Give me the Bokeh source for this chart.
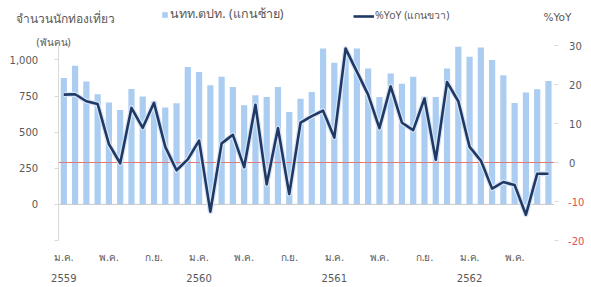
from bokeh.plotting import figure
from bokeh.models import (Range1d, LinearAxis, FixedTicker, Label, Legend, LegendItem,
                          ColumnDataSource, NumeralTickFormatter)
from bokeh.embed import file_html
from bokeh.resources import INLINE

# ---------------- data ----------------
month_abbr = ["ม.ค.", "ก.พ.", "มี.ค.", "เม.ย.", "พ.ค.", "มิ.ย.",
              "ก.ค.", "ส.ค.", "ก.ย.", "ต.ค.", "พ.ย.", "ธ.ค."]
years = ["2559", "2560", "2561", "2562"]
n_months = 44  # ม.ค. 2559 - ส.ค. 2562

# foreign tourists (thousand persons), left axis
tourists = [875, 960, 851, 763, 705, 654, 798, 747, 712, 670, 700, 952,
            917, 825, 883, 813, 686, 755, 743, 813, 639, 732, 778, 1080,
            980, 1040, 1080, 941, 743, 906, 836, 883, 745, 743, 941, 1091,
            1022, 1087, 999, 894, 702, 774, 797, 855]
# %YoY, right axis
yoy = [17.4, 17.5, 15.7, 15.0, 4.7, -0.2, 14.0, 8.9, 15.3, 4.0, -2.0, 0.8,
       5.6, -12.6, 4.9, 7.1, -1.2, 14.8, -5.6, 8.8, -8.1, 10.2, 11.9, 13.3,
       6.4, 29.2, 23.3, 17.4, 8.8, 19.5, 10.2, 8.3, 16.4, 0.7, 20.6, 15.7,
       4.0, 0.5, -6.7, -5.0, -5.8, -13.4, -2.9, -2.9]

left_ticks = [-250, 0, 250, 500, 750, 1000]
left_bounds = (-250, 1100)
right_ticks = [-20, -10, 0, 10, 20, 30]
right_bounds = (-20, 30)

idx = list(range(n_months))
labels = [month_abbr[i % 12] for i in idx]
month_tick_idx = [i for i in idx if i % 4 == 0]
year_tick_idx = [i for i in idx if i % 12 == 0]

src = ColumnDataSource(dict(x=idx, tourists=tourists, yoy=yoy, label=labels))

# ---------------- layout ----------------
W, H = 591, 287
BOTTOM = 38                   # height of the month / year label band
PLOT_L, PLOT_R = 57.7, 553.6  # pixel edges of the category band
PLOT_T, PLOT_B = 45, 240      # pixel top / bottom of the value axes
FRAME_H = H - BOTTOM
step = (PLOT_R - PLOT_L) / n_months
x0 = -0.5 - PLOT_L / step
x1 = x0 + W / step
axis_px = PLOT_B - PLOT_T
lpp = (left_bounds[1] - left_bounds[0]) / axis_px
rpp = (right_bounds[1] - right_bounds[0]) / axis_px
l_range = (left_bounds[0] - (FRAME_H - PLOT_B) * lpp, left_bounds[1] + PLOT_T * lpp)
r_range = (right_bounds[0] - (FRAME_H - PLOT_B) * rpp, right_bounds[1] + PLOT_T * rpp)

GRAY = "#595959"
FONT = "DejaVu Sans"
THAI = "Noto Sans, DejaVu Sans, sans-serif"

p = figure(width=W, height=H, output_backend="svg", toolbar_location=None,
           x_range=Range1d(x0, x1), y_range=Range1d(*l_range),
           min_border_left=0, min_border_right=0, min_border_top=0, min_border_bottom=BOTTOM,
           x_axis_location=None, y_axis_location=None)
p.outline_line_color = None
p.xgrid.visible = False
p.ygrid.visible = False
p.extra_y_ranges = {"yoy": Range1d(*r_range)}

# bars
bars = p.vbar(x="x", top="tourists", bottom=0, width=0.55, source=src,
              fill_color="#ABCDF1", line_color=None)

# baseline (0 of left axis) and 0% line (right axis)
p.segment(x0=[-0.5], x1=[n_months - 0.5], y0=[0], y1=[0], line_color="#C8C8C8", line_width=1)
p.segment(x0=[-0.5], x1=[n_months - 0.5], y0=[0], y1=[0], y_range_name="yoy",
          line_color="#E07A7A", line_width=1)

# line with light halo
p.line(x="x", y="yoy", source=src, y_range_name="yoy", line_color="#D6E4F5",
       line_width=5, line_join="round")
ln = p.line(x="x", y="yoy", source=src, y_range_name="yoy", line_color="#1F3864",
            line_width=2.6, line_join="round")

# left axis (fixed at the left edge of the category band)
la = LinearAxis(ticker=FixedTicker(ticks=left_ticks), fixed_location=-0.5,
                bounds=left_bounds,
                formatter=NumeralTickFormatter(format="0,0"),
                major_label_overrides={-250: ""})
la.axis_line_color = "#D9D9D9"
la.major_tick_line_color = "#D9D9D9"
la.major_tick_out = 4
la.major_tick_in = 0
la.minor_tick_line_color = None
la.major_label_standoff = 16
la.major_label_text_font = FONT
la.major_label_text_font_size = "10px"
la.major_label_text_color = GRAY
p.add_layout(la, "left")

# right axis (fixed at the right edge of the category band)
ra = LinearAxis(y_range_name="yoy", ticker=FixedTicker(ticks=right_ticks),
                fixed_location=n_months - 0.5, bounds=right_bounds,
                major_label_overrides={t: "" for t in right_ticks if t < 0})
ra.axis_line_color = None
ra.major_tick_line_color = "#D9D9D9"
ra.major_tick_out = 4
ra.major_tick_in = 0
ra.minor_tick_line_color = None
ra.major_label_standoff = 11
ra.major_label_text_font = FONT
ra.major_label_text_font_size = "10px"
ra.major_label_text_color = GRAY
p.add_layout(ra, "right")

# negative %YoY labels in red
for t in right_ticks:
    if t < 0:
        p.add_layout(Label(x=n_months - 0.5, x_offset=14, y=t, y_range_name="yoy",
                           text=str(t), text_font=FONT, text_font_size="10px",
                           text_color="#E05050", text_baseline="middle", text_align="left"))

# bottom axes: months and years
ma = LinearAxis(ticker=FixedTicker(ticks=month_tick_idx),
                major_label_overrides={i: labels[i] for i in month_tick_idx})
ma.axis_line_color = None
ma.major_tick_line_color = None
ma.minor_tick_line_color = None
ma.major_label_standoff = -6
ma.major_label_text_font = THAI
ma.major_label_text_font_size = "10px"
ma.major_label_text_color = GRAY
p.add_layout(ma, "below")

ya = LinearAxis(ticker=FixedTicker(ticks=year_tick_idx),
                major_label_overrides={i: years[k] for k, i in enumerate(year_tick_idx)})
ya.axis_line_color = None
ya.major_tick_line_color = None
ya.minor_tick_line_color = None
ya.major_label_standoff = 1
ya.major_label_text_font = FONT
ya.major_label_text_font_size = "10px"
ya.major_label_text_color = GRAY
p.add_layout(ya, "below")

# titles (screen units, relative to the frame's bottom-left corner)
p.add_layout(Label(x=15, y=FRAME_H - 18, x_units="screen", y_units="screen",
                   text="จำนวนนักท่องเที่ยว", text_font=THAI,
                   text_font_size="12px", text_color=GRAY, text_baseline="middle"))
p.add_layout(Label(x=36, y=FRAME_H - 41, x_units="screen", y_units="screen",
                   text="(พันคน)", text_font=THAI,
                   text_font_size="10px", text_color=GRAY, text_baseline="middle"))
p.add_layout(Label(x=543, y=FRAME_H - 16, x_units="screen", y_units="screen",
                   text="%YoY", text_font=FONT,
                   text_font_size="10.5px", text_color=GRAY, text_baseline="middle"))

# legends
lg1 = Legend(items=[LegendItem(label="นทท.ตปท. (แกนซ้าย)", renderers=[bars])],
             location=(161, FRAME_H - 24), glyph_width=7, glyph_height=7, label_height=12,
             label_standoff=2, padding=0, margin=0, border_line_color=None,
             background_fill_alpha=0, label_text_font=THAI, label_text_font_size="12.5px",
             label_text_color=GRAY)
lg2 = Legend(items=[LegendItem(label="%YoY (แกนขวา)", renderers=[ln])],
             location=(353, FRAME_H - 24), glyph_width=21, glyph_height=8, label_height=12,
             label_standoff=1, padding=0, margin=0, border_line_color=None,
             background_fill_alpha=0, label_text_font=THAI, label_text_font_size="10.5px",
             label_text_color=GRAY)
p.add_layout(lg1, "center")
p.add_layout(lg2, "center")

open("out.html", "w").write(file_html(p, INLINE))
